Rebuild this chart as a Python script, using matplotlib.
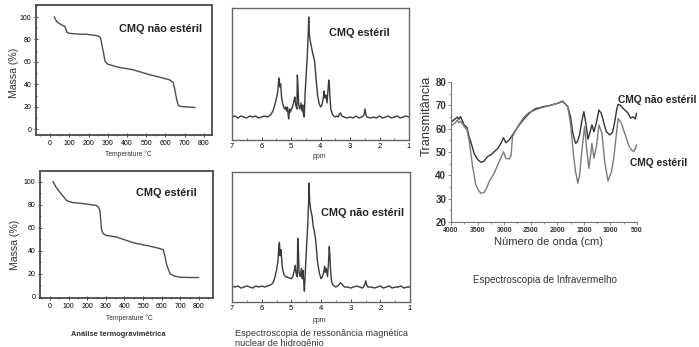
import matplotlib
matplotlib.use("Agg")
import matplotlib.pyplot as plt
from matplotlib.ticker import MultipleLocator

plt.rcParams['font.family'] = ['Liberation Sans', 'DejaVu Sans']

W, H = 699, 347

# ---------------- data ----------------
# TGA (temperature °C, mass %)
tga_ns_temp = [22, 35, 50, 78, 87, 100, 150, 190, 251, 262, 268, 278, 286, 300, 312, 350, 433, 519, 580, 623, 640, 649, 658, 667, 690, 710, 753]
tga_ns_mass = [100, 95.8, 94, 91.4, 86.5, 85.5, 84.8, 84.7, 83.2, 81.5, 76.8, 68, 60.5, 58, 57.5, 55.5, 53, 48.6, 46, 44, 41.7, 35.2, 27, 21, 20.2, 20, 19.5]

tga_st_temp = [16, 30, 50, 70, 90, 120, 180, 251, 262, 268, 277, 286, 300, 358, 448, 538, 590, 609, 618, 627, 645, 670, 700, 760, 797]
tga_st_mass = [100, 96, 91.5, 87.5, 83.6, 82, 81, 79.4, 77.5, 75, 58, 55, 53.5, 52, 47, 44, 42, 41, 35, 28, 20, 18, 17, 16.8, 16.8]

# 1H NMR (ppm, relative intensity)
nmr_st_ppm = [7.0, 6.9, 6.8, 6.7, 6.6, 6.5, 6.4, 6.3, 6.2, 6.1, 6.0, 5.9, 5.8, 5.7, 5.65, 5.6, 5.55, 5.5, 5.45, 5.42, 5.40, 5.38, 5.35, 5.32, 5.28,
              5.22, 5.18, 5.15, 5.12, 5.10, 5.08, 5.05, 5.02, 5.0, 4.95, 4.90, 4.87, 4.84, 4.80, 4.785, 4.775, 4.76, 4.74, 4.70, 4.66, 4.63,
              4.60, 4.58, 4.55, 4.52, 4.48, 4.45, 4.42, 4.41, 4.40, 4.39, 4.38, 4.36, 4.32, 4.28, 4.24, 4.20, 4.15, 4.10, 4.05, 4.00,
              3.95, 3.90, 3.88, 3.85, 3.82, 3.78, 3.75, 3.72, 3.70, 3.68, 3.65, 3.60, 3.55, 3.50, 3.45, 3.40, 3.36, 3.32, 3.28, 3.2,
              3.1, 3.0, 2.9, 2.8, 2.7, 2.6, 2.55, 2.52, 2.49, 2.46, 2.42, 2.3, 2.2, 2.1, 2.0, 1.9, 1.8, 1.7, 1.6, 1.5, 1.4, 1.3, 1.2, 1.1, 1.0]
nmr_st_int = [0.0, 0.01, -0.01, 0.01, 0.0, -0.01, 0.01, 0.0, 0.01, -0.01, 0.0, 0.01, 0.0, 0.02, 0.04, 0.07, 0.12, 0.18, 0.25, 0.36, 0.39, 0.30, 0.33, 0.20, 0.13,
              0.08, 0.10, 0.06, 0.10, 0.03, -0.02, 0.08, 0.05, 0.07, 0.10, 0.16, 0.20, 0.12, 0.08, 0.42, 0.38, 0.28, 0.12, 0.08, 0.14, 0.06,
              0.12, 0.03, 0.0, 0.25, 0.45, 0.60, 0.80, 0.88, 1.00, 0.90, 0.83, 0.78, 0.72, 0.66, 0.61, 0.56, 0.38, 0.22, 0.14, 0.10,
              0.12, 0.20, 0.26, 0.19, 0.22, 0.14, 0.25, 0.37, 0.32, 0.20, 0.08, 0.03, 0.01, 0.0, 0.01, 0.0, 0.03, 0.04, 0.01, 0.0,
              -0.01, 0.0, -0.01, 0.01, -0.01, 0.0, 0.01, 0.03, 0.08, 0.02, 0.0, -0.01, 0.0, -0.01, 0.01, -0.01, 0.0, 0.01, -0.01, 0.0, 0.01, -0.01, 0.0, 0.01, 0.0]

nmr_ns_ppm = [7.0, 6.9, 6.8, 6.7, 6.6, 6.5, 6.4, 6.3, 6.2, 6.1, 6.0, 5.9, 5.8, 5.7, 5.65, 5.6, 5.55, 5.5, 5.45, 5.42, 5.40, 5.38, 5.35, 5.30, 5.25,
              5.20, 5.10, 5.00, 4.95, 4.90, 4.87, 4.84, 4.80, 4.785, 4.775, 4.76, 4.74, 4.70, 4.66, 4.63, 4.61, 4.58, 4.56, 4.52,
              4.48, 4.45, 4.42, 4.41, 4.40, 4.39, 4.38, 4.35, 4.30, 4.26, 4.22, 4.18, 4.12, 4.06, 4.00,
              3.95, 3.90, 3.88, 3.85, 3.82, 3.78, 3.75, 3.72, 3.70, 3.68, 3.65, 3.60, 3.55, 3.50, 3.45, 3.40, 3.35, 3.30, 3.25, 3.2,
              3.1, 3.0, 2.9, 2.8, 2.7, 2.6, 2.55, 2.52, 2.49, 2.46, 2.42, 2.3, 2.2, 2.1, 2.0, 1.9, 1.8, 1.7, 1.6, 1.5, 1.4, 1.3, 1.2, 1.1, 1.0]
nmr_ns_int = [0.01, 0.0, 0.01, -0.01, 0.0, 0.01, 0.0, -0.01, 0.01, 0.0, 0.01, 0.0, 0.01, 0.02, 0.03, 0.05, 0.10, 0.16, 0.25, 0.40, 0.43, 0.30, 0.36, 0.18, 0.12,
              0.10, 0.09, 0.08, 0.10, 0.16, 0.21, 0.13, 0.10, 0.47, 0.42, 0.35, 0.14, 0.10, 0.18, 0.08, 0.16, 0.05, -0.04, 0.20,
              0.42, 0.58, 0.80, 0.90, 1.00, 0.88, 0.82, 0.75, 0.68, 0.58, 0.53, 0.45, 0.25, 0.14, 0.08,
              0.10, 0.15, 0.20, 0.14, 0.18, 0.10, 0.22, 0.39, 0.30, 0.18, 0.06, 0.02, 0.01, 0.0, 0.01, 0.02, 0.04, 0.03, 0.01, 0.0,
              0.0, -0.01, 0.0, 0.01, 0.0, -0.01, 0.01, 0.03, 0.06, 0.02, 0.0, 0.0, -0.01, 0.0, 0.01, -0.01, 0.0, 0.01, -0.01, 0.0, 0.0, 0.01, -0.01, 0.0, 0.0]

# FTIR (wavenumber cm-1, transmittance)
ir_ns_wn = [4000, 3960, 3920, 3880, 3850, 3820, 3780, 3754, 3700, 3660, 3610, 3565, 3500, 3440, 3380, 3314, 3250, 3188, 3120, 3062, 3012,
            2968, 2905, 2842, 2780, 2716, 2640, 2559, 2480, 2401, 2336, 2275, 2147, 1990, 1896, 1802, 1750, 1707, 1656, 1620, 1581, 1540, 1500,
            1460, 1423, 1390, 1348, 1310, 1260, 1216, 1170, 1120, 1076, 1013, 960, 918, 880, 855, 810, 761, 720, 666, 620, 572, 530, 509]
ir_ns_t = [62.5, 63.5, 64.2, 65.0, 64.0, 65.2, 63.0, 61.6, 60.5, 56.6, 53.0, 49.4, 46.8, 45.6, 46.0, 48.0, 48.8, 50.1, 51.5, 53.7, 56.1,
           54.0, 55.1, 57.3, 59.5, 61.6, 63.8, 65.9, 67.5, 68.7, 68.9, 69.4, 69.9, 70.9, 71.8, 69.4, 65.0, 58.0, 53.7, 54.5, 57.3, 63.0, 67.3,
           62.0, 55.5, 58.0, 61.6, 58.7, 63.0, 68.0, 66.5, 62.0, 58.7, 57.3, 58.5, 63.0, 68.5, 70.4, 70.0, 68.7, 67.8, 66.6, 64.5, 65.1, 64.2, 66.6]

ir_st_wn = [4000, 3960, 3920, 3880, 3850, 3820, 3780, 3754, 3700, 3660, 3597, 3534, 3480, 3440, 3377, 3330, 3282, 3188, 3094, 3012,
            2968, 2905, 2870, 2842, 2779, 2700, 2621, 2540, 2440, 2336, 2147, 1990, 1896, 1802, 1750, 1700, 1660, 1613, 1581, 1540, 1487,
            1450, 1405, 1370, 1348, 1310, 1260, 1216, 1160, 1108, 1045, 981, 940, 918, 855, 792, 740, 698, 650, 603, 560, 530, 509]
ir_st_t = [61.0, 61.8, 62.5, 63.7, 62.5, 63.2, 62.0, 60.9, 59.5, 55.2, 44.4, 35.9, 33.5, 32.3, 32.7, 34.5, 37.3, 40.9, 45.9, 50.1,
           47.3, 47.0, 48.5, 56.6, 59.4, 62.5, 65.1, 66.8, 67.8, 68.7, 69.9, 70.9, 71.6, 69.4, 62.0, 50.0, 42.0, 36.6, 40.0, 50.0, 60.9,
           52.0, 43.0, 49.0, 53.7, 47.3, 53.0, 61.6, 58.0, 45.9, 37.6, 41.6, 47.0, 51.6, 64.4, 62.3, 58.5, 55.9, 52.5, 50.9, 50.2, 51.5, 53.0]

tga_xticks = [0, 100, 200, 300, 400, 500, 600, 700, 800]
tga_yticks = [0, 20, 40, 60, 80, 100]
nmr_xticks = [7, 6, 5, 4, 3, 2, 1]
ir_xticks = [4000, 3500, 3000, 2500, 2000, 1500, 1000, 500]
ir_yticks = [20, 30, 40, 50, 60, 70, 80]

# ---------------- figure ----------------
fig = plt.figure(figsize=(W / 100, H / 100), dpi=100)
fig.patch.set_facecolor('white')

def px_axes(x0, y0, x1, y1):
    return fig.add_axes([x0 / W, 1 - y1 / H, (x1 - x0) / W, (y1 - y0) / H])

def ftext(x, y, s, **kw):
    kw.setdefault('ha', 'center')
    kw.setdefault('va', 'center')
    fig.text(x / W, 1 - y / H, s, **kw)

frame_col = '#4a4a4a'
line_col = '#4d4d4d'

def style_box(ax):
    for sp in ax.spines.values():
        sp.set_color(frame_col)
        sp.set_linewidth(1.3)

# TGA panels
def tga_panel(box, xlim, ylim, temp, mass):
    ax = px_axes(*box)
    ax.plot(temp, mass, color=line_col, lw=1.0)
    ax.set_xlim(*xlim)
    ax.set_ylim(*ylim)
    ax.set_xticks(tga_xticks)
    ax.set_yticks(tga_yticks)
    ax.xaxis.set_minor_locator(MultipleLocator(50))
    ax.yaxis.set_minor_locator(MultipleLocator(10))
    ax.tick_params(axis='both', which='major', labelsize=5, length=2.5, width=0.7, color=frame_col, pad=2, direction='inout')
    ax.tick_params(axis='both', which='minor', length=1.5, width=0.6, color=frame_col, direction='inout')
    ax.tick_params(axis='x', top=False)
    style_box(ax)
    return ax

tga_panel((36, 5, 212, 135), (-73, 842), (-5, 110.7), tga_ns_temp, tga_ns_mass)
tga_panel((40, 171, 213, 298), (-54, 876), (-1, 109.4), tga_st_temp, tga_st_mass)

title_fs = 7.8
ftext(161, 29, 'CMQ não estéril', fontsize=title_fs, fontweight='bold', color='#222222')
ftext(166, 193, 'CMQ estéril', fontsize=title_fs, fontweight='bold', color='#222222')
ftext(128, 154, 'Temperature °C', fontsize=4.8, color='#333333')
ftext(129, 318, 'Temperature °C', fontsize=4.8, color='#333333')
ftext(14, 73, 'Massa (%)', fontsize=7.6, rotation=90, color='#333333')
ftext(15, 245, 'Massa (%)', fontsize=7.6, rotation=90, color='#333333')
ftext(118, 335, 'Análise termogravimétrica', fontsize=5.4, fontweight='bold', color='#333333')

# NMR panels
def nmr_panel(box, ylim, ppm, inten):
    ax = px_axes(*box)
    ax.plot(ppm, inten, color='#3a3a3a', lw=1.0)
    ax.set_xlim(7, 1)
    ax.set_ylim(*ylim)
    ax.set_xticks(nmr_xticks)
    ax.set_xticklabels([str(v) for v in nmr_xticks])
    ax.xaxis.set_minor_locator(MultipleLocator(0.5))
    ax.set_yticks([])
    ax.tick_params(axis='x', which='major', labelsize=5.5, length=2.5, width=0.7, color=frame_col, pad=2, direction='in')
    ax.tick_params(axis='x', which='minor', length=1.5, width=0.5, color=frame_col, direction='in')
    for sp in ax.spines.values():
        sp.set_color('#666666')
        sp.set_linewidth(1.0)
    return ax

nmr_panel((232, 8, 409, 140), (-0.23, 1.09), nmr_st_ppm, nmr_st_int)
nmr_panel((232, 172, 410, 302), (-0.144, 1.106), nmr_ns_ppm, nmr_ns_int)

ftext(359, 33, 'CMQ estéril', fontsize=title_fs, fontweight='bold', color='#222222')
ftext(363, 213, 'CMQ não estéril', fontsize=title_fs, fontweight='bold', color='#222222')
ftext(319, 156, 'ppm', fontsize=5, color='#333333')
ftext(319, 320, 'ppm', fontsize=5, color='#333333')
ftext(235, 333, 'Espectroscopia de ressonância magnética', fontsize=6.6, ha='left', color='#333333')
ftext(235, 343, 'nuclear de hidrogênio', fontsize=6.6, ha='left', color='#333333')

# IR panel
ax = px_axes(451, 82, 637, 222)
ax.plot(ir_ns_wn, ir_ns_t, color='#333333', lw=1.0)
ax.plot(ir_st_wn, ir_st_t, color='#7a7a7a', lw=1.0)
ax.set_xlim(4000, 500)
ax.set_ylim(20, 80)
ax.set_xticks(ir_xticks)
ax.set_yticks(ir_yticks)
ax.xaxis.set_minor_locator(MultipleLocator(250))
ax.yaxis.set_minor_locator(MultipleLocator(5))
for s in ('top', 'right'):
    ax.spines[s].set_visible(False)
for s in ('left', 'bottom'):
    ax.spines[s].set_color('#777777')
    ax.spines[s].set_linewidth(0.8)
ax.tick_params(axis='x', which='major', labelsize=5, length=2, width=0.6, color='#777777', pad=1.5)
ax.tick_params(axis='y', which='major', labelsize=7, length=2, width=0.6, color='#777777', pad=1.5)
ax.tick_params(which='minor', length=1.2, width=0.5, color='#777777')
for lab in ax.get_xticklabels() + ax.get_yticklabels():
    lab.set_fontweight('bold')
    lab.set_color('#333333')

ftext(427, 116, 'Transmitância', fontsize=9.3, rotation=90, color='#333333')
ftext(548, 242, 'Número de onda (cm)', fontsize=8, color='#333333')
ftext(545, 280, 'Espectroscopia de Infravermelho', fontsize=7.1, color='#333333')
ftext(657, 100, 'CMQ não estéril', fontsize=7.4, fontweight='bold', color='#222222')
ftext(659, 163, 'CMQ estéril', fontsize=7.4, fontweight='bold', color='#222222')

fig.savefig('out.png', dpi=100)
